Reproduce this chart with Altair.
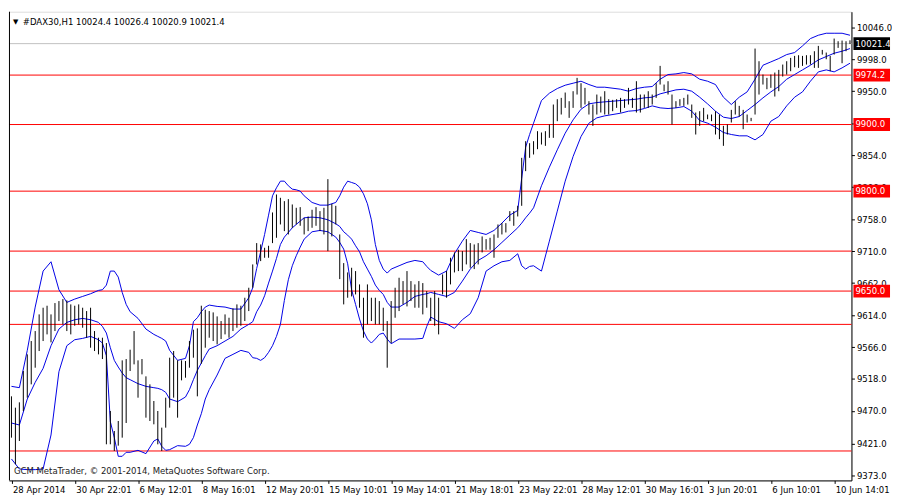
import altair as alt
import pandas as pd

# ---------------- data ----------------
highs = [9492, 9475, 9483, 9530, 9555, 9575, 9590, 9615, 9625, 9628,
         9615, 9632, 9635, 9638, 9636, 9630, 9628, 9630, 9625, 9620,
         9625, 9590, 9580, 9580, 9572, 9470, 9440, 9455, 9546, 9548,
         9562, 9590, 9546, 9548, 9522, 9510, 9485, 9470, 9445, 9490,
         9550, 9560, 9546, 9546, 9545, 9575, 9592, 9594, 9628, 9622,
         9620, 9618, 9612, 9605, 9615, 9610, 9624, 9630, 9628, 9640,
         9655, 9690, 9722, 9720, 9715, 9718, 9768, 9795, 9790, 9785,
         9788, 9780, 9775, 9776, 9760, 9762, 9772, 9776, 9770, 9775,
         9818, 9781, 9778, 9735, 9692, 9678, 9685, 9680, 9660, 9640,
         9660, 9640, 9640, 9635, 9625, 9605, 9635, 9655, 9670, 9665,
         9680, 9665, 9660, 9665, 9662, 9650, 9640, 9650, 9640, 9675,
         9680, 9700, 9708, 9712, 9710, 9728, 9722, 9720, 9722, 9732,
         9728, 9730, 9735, 9750, 9752, 9752, 9770, 9770, 9778, 9850,
         9875, 9872, 9875, 9890, 9888, 9890, 9900, 9930, 9938, 9940,
         9948, 9935, 9950, 9970, 9962, 9955, 9935, 9930, 9945, 9942,
         9950, 9938, 9937, 9938, 9940, 9938, 9955, 9940, 9965, 9945,
         9945, 9950, 9945, 9962, 9988, 9960, 9965, 9945, 9935, 9938,
         9940, 9945, 9930, 9918, 9920, 9925, 9915, 9915, 9920, 9915,
         9898, 9900, 9922, 9935, 9928, 9922, 9915, 9910, 10014, 9995,
         9975, 9970, 9975, 9978, 9982, 9990, 9995, 10000, 10003, 10004,
         10003, 10004, 10004, 10010, 10018, 10012, 10008, 10003, 10029, 10025,
         10026, 10025, 10026.4]

lows = [9430, 9390, 9425, 9470, 9490, 9510, 9535, 9560, 9575, 9585,
        9573, 9590, 9605, 9600, 9590, 9585, 9598, 9600, 9595, 9580,
        9565, 9560, 9555, 9548, 9420, 9420, 9410, 9418, 9430, 9452,
        9530, 9540, 9490, 9525, 9460, 9455, 9450, 9420, 9410, 9445,
        9475, 9490, 9460, 9516, 9520, 9535, 9550, 9492, 9541, 9565,
        9580, 9575, 9570, 9578, 9585, 9580, 9590, 9595, 9598, 9605,
        9620, 9655, 9690, 9695, 9700, 9700, 9722, 9730, 9750, 9740,
        9735, 9745, 9750, 9748, 9735, 9740, 9745, 9748, 9740, 9735,
        9710, 9732, 9750, 9668, 9630, 9640, 9642, 9645, 9625, 9580,
        9600, 9605, 9600, 9600, 9590, 9535, 9572, 9610, 9620, 9630,
        9627, 9635, 9625, 9625, 9615, 9625, 9605, 9598, 9585, 9645,
        9640, 9660, 9678, 9680, 9680, 9690, 9685, 9683, 9690, 9708,
        9712, 9712, 9700, 9730, 9735, 9738, 9755, 9748, 9762, 9778,
        9830, 9850, 9855, 9863, 9870, 9868, 9880, 9880, 9905, 9915,
        9925, 9910, 9925, 9945, 9925, 9930, 9915, 9898, 9915, 9918,
        9915, 9915, 9920, 9925, 9918, 9925, 9930, 9925, 9918, 9918,
        9925, 9925, 9930, 9940, 9960, 9950, 9945, 9900, 9925, 9928,
        9928, 9930, 9910, 9885, 9898, 9905, 9908, 9905, 9885, 9878,
        9868, 9885, 9903, 9915, 9912, 9893, 9903, 9905, 9915, 9945,
        9960, 9953, 9955, 9942, 9950, 9972, 9975, 9980, 9986, 9985,
        9988, 9990, 9990, 9985, 9985, 10005, 9998, 9980, 10005, 10015,
        9992, 10010, 10020.9]

# Bollinger band lines (upper / middle / lower) read at these bar positions
band_idx = [0, 2, 4, 6, 8, 10, 12, 14, 16, 18, 20, 22, 23, 24, 25, 26, 27, 28, 29, 30,
            32, 34, 36, 37, 38, 39, 40, 42, 44, 45, 46, 47, 48, 49, 50, 52, 54, 56,
            58, 60, 61, 62, 63, 64, 65, 66, 67, 68, 69, 70, 71, 72, 73, 74, 76, 78, 80, 82,
            83, 84, 85, 86, 87, 88, 89, 90, 91, 92, 93, 94, 95, 96, 98, 100, 102, 104, 105, 106,
            108, 110, 112, 114, 116, 118, 120, 122, 124, 126, 128, 129, 130, 131, 132, 134, 136, 138,
            140, 142, 144, 146, 148, 150, 154, 156, 158, 160, 162, 164, 166, 168, 170, 172, 174, 176,
            178, 180, 182, 184, 186, 188, 190, 192, 194, 196, 198, 200, 202, 204, 206, 208, 210, 212]

upper = [9507, 9505, 9561, 9626, 9680, 9694, 9652, 9633, 9638, 9642, 9646, 9651, 9652, 9659, 9680, 9680, 9671, 9648, 9630, 9619,
         9609, 9593, 9585, 9582, 9579, 9575, 9561, 9546, 9549, 9568, 9604, 9610, 9619, 9626, 9629, 9627, 9626, 9623,
         9623, 9640, 9655, 9684, 9709, 9735, 9764, 9793, 9805, 9815, 9815, 9808, 9803, 9802, 9800, 9793, 9783, 9779, 9779, 9783,
         9793, 9806, 9815, 9813, 9811, 9806, 9796, 9781, 9757, 9720, 9696, 9683, 9677, 9683, 9688, 9693, 9696, 9694, 9687, 9681,
         9674, 9680, 9706, 9725, 9741, 9738, 9735, 9741, 9752, 9764, 9771, 9819, 9866, 9885, 9902, 9936, 9947, 9954,
         9959, 9962, 9965, 9960, 9956, 9956, 9953, 9950, 9954, 9956, 9957, 9968, 9975, 9976, 9978, 9976, 9968, 9965,
         9960, 9941, 9930, 9941, 9949, 9968, 9989, 9994, 9999, 10005, 10008, 10018, 10029, 10034, 10037, 10037, 10037, 10034]

middle = [9452, 9449, 9488, 9513, 9534, 9568, 9593, 9603, 9607, 9609, 9607, 9603, 9597, 9587, 9565, 9546, 9536, 9527, 9520, 9517,
          9511, 9507, 9505, 9504, 9502, 9498, 9488, 9484, 9491, 9502, 9517, 9531, 9542, 9553, 9563, 9568, 9575, 9582,
          9593, 9600, 9604, 9619, 9629, 9643, 9662, 9680, 9699, 9720, 9731, 9738, 9745, 9750, 9755, 9760, 9761, 9760, 9757, 9751,
          9747, 9739, 9734, 9728, 9718, 9709, 9694, 9683, 9672, 9659, 9651, 9645, 9633, 9626, 9626, 9633, 9642, 9645, 9646, 9648,
          9645, 9642, 9648, 9665, 9683, 9696, 9703, 9712, 9723, 9734, 9745, 9752, 9760, 9767, 9775, 9808, 9836, 9862,
          9887, 9907, 9923, 9931, 9933, 9934, 9936, 9937, 9938, 9940, 9941, 9946, 9949, 9952, 9953, 9950, 9941, 9931,
          9920, 9911, 9909, 9912, 9921, 9930, 9940, 9949, 9957, 9968, 9975, 9982, 9989, 9997, 10002, 10007, 10010, 10014]

lower = [9398, 9383, 9382, 9382, 9383, 9434, 9529, 9568, 9577, 9579, 9582, 9577, 9572, 9553, 9454, 9430, 9402, 9402, 9408, 9408,
         9411, 9406, 9425, 9428, 9417, 9411, 9412, 9418, 9417, 9420, 9430, 9449, 9466, 9488, 9502, 9524, 9549, 9555,
         9561, 9558, 9550, 9549, 9546, 9550, 9558, 9568, 9582, 9600, 9636, 9667, 9688, 9703, 9716, 9728, 9739, 9741, 9739, 9731,
         9723, 9713, 9691, 9652, 9630, 9608, 9590, 9578, 9572, 9578, 9585, 9587, 9578, 9571, 9578, 9578, 9578, 9579, 9597, 9611,
         9604, 9601, 9594, 9607, 9616, 9640, 9680, 9688, 9694, 9696, 9706, 9688, 9683, 9687, 9688, 9680, 9725, 9770,
         9815, 9852, 9882, 9902, 9910, 9913, 9917, 9920, 9921, 9924, 9928, 9925, 9924, 9925, 9927, 9920, 9906, 9902,
         9896, 9888, 9885, 9883, 9883, 9877, 9885, 9905, 9912, 9928, 9941, 9949, 9965, 9979, 9982, 9979, 9985, 9992]

time_ticks = [0, 16, 32, 48, 64, 80, 96, 112, 128, 144, 160, 176, 192, 208]
time_labels = ["28 Apr 2014", "30 Apr 22:01", "6 May 12:01", "8 May 16:01", "12 May 20:01",
               "15 May 10:01", "19 May 14:01", "21 May 18:01", "23 May 22:01", "28 May 12:01",
               "30 May 16:01", "3 Jun 20:01", "6 Jun 10:01", "10 Jun 14:01"]
price_ticks = [10046.0, 9998.0, 9950.0, 9902.0, 9854.0, 9806.0, 9758.0, 9710.0,
               9662.0, 9614.0, 9566.0, 9518.0, 9470.0, 9421.0, 9373.0]
red_levels = [9974.2, 9900.0, 9800.0, 9710.0, 9650.0, 9600.0, 9410.0]
tag_levels = [9974.2, 9900.0, 9800.0, 9650.0, 10021.4]
tag_colors = ["#FF0000", "#FF0000", "#FF0000", "#FF0000", "#000000"]
last_price = 10021.4
title_text = "#DAX30,H1  10024.4 10026.4 10020.9 10021.4"
footer_text = "GCM MetaTrader, \u00a9 2001-2014, MetaQuotes Software Corp."

# ---------------- layout ----------------
W, H = 852, 474
FONT = "DejaVu Sans"
FS = 8.6
xscale = alt.Scale(domain=[-0.625, 212.375], nice=False, zero=False)
yscale = alt.Scale(domain=[9365.8, 10069.3], nice=False, zero=False)

lab_arr = "[" + ",".join(f"'{s}'" for s in time_labels) + "]"
tick_arr = "[" + ",".join(str(t) for t in time_ticks) + "]"
label_expr = f"{lab_arr}[indexof({tick_arr}, datum.value)]"

x_axis = alt.Axis(values=time_ticks, labelExpr=label_expr, title=None,
                  labelAlign="left", labelBaseline="top", labelPadding=2,
                  labelOffset=1, tickSize=3, grid=False, labelFlush=False,
                  labelOverlap=False, domainColor="#000000", tickColor="#000000",
                  labelColor="#000000", labelFont=FONT, labelFontSize=FS, zindex=0)
y_axis = alt.Axis(orient="right", values=price_ticks, format=".1f", title=None,
                  tickSize=3, labelPadding=2, grid=False, labelOverlap=False,
                  labelFlush=False, domainColor="#000000", tickColor="#000000",
                  labelColor="#000000", labelFont=FONT, labelFontSize=FS,
                  labelBaseline="middle", zindex=0)

bars = pd.DataFrame({"i": list(range(len(highs))), "high": highs, "low": lows})
bands = pd.concat([
    pd.DataFrame({"i": band_idx, "v": upper, "band": "upper"}),
    pd.DataFrame({"i": band_idx, "v": middle, "band": "middle"}),
    pd.DataFrame({"i": band_idx, "v": lower, "band": "lower"}),
])
levels = pd.DataFrame({"level": red_levels})
tags = pd.DataFrame({"level": tag_levels, "col": tag_colors,
                     "txt": [f"{v:.1f}" for v in tag_levels]})

bar_layer = alt.Chart(bars).mark_rule(color="#000000", strokeWidth=1).encode(
    x=alt.X("i:Q", scale=xscale, axis=x_axis),
    y=alt.Y("low:Q", scale=yscale, axis=y_axis),
    y2="high:Q",
)

band_layer = alt.Chart(bands).mark_line(color="#0000E6", strokeWidth=1).encode(
    x=alt.X("i:Q", scale=xscale, axis=x_axis),
    y=alt.Y("v:Q", scale=yscale, axis=y_axis),
    detail="band:N",
)

level_layer = alt.Chart(levels).mark_rule(color="#FF0000", strokeWidth=1).encode(
    y=alt.Y("level:Q", scale=yscale, axis=y_axis)
)

last_layer = alt.Chart(pd.DataFrame({"p": [last_price]})).mark_rule(
    color="#C0C0C0", strokeWidth=1).encode(y=alt.Y("p:Q", scale=yscale, axis=y_axis))

left_border = alt.Chart(pd.DataFrame({"p": [0]})).mark_rule(color="#000000", strokeWidth=1).encode(
    x=alt.value(0.5), y=alt.value(0), y2=alt.value(H))

tag_box = alt.Chart(tags).transform_calculate(
    top="datum.level + 9.6", bot="datum.level - 9.6"
).mark_rect().encode(
    x=alt.value(W + 2), x2=alt.value(W + 39),
    y=alt.Y("top:Q", scale=yscale, axis=y_axis), y2="bot:Q",
    color=alt.Color("col:N", scale=None, legend=None),
)

tag_text = alt.Chart(tags).mark_text(align="left", baseline="middle", color="#FFFFFF",
                                     font=FONT, fontSize=FS).encode(
    x=alt.value(W + 4), y=alt.Y("level:Q", scale=yscale, axis=y_axis), text="txt:N")

title_layer = alt.Chart(pd.DataFrame({"t": [title_text]})).mark_text(
    align="left", baseline="middle", font=FONT, fontSize=FS, color="#000000").encode(
    x=alt.value(14), y=alt.value(10), text="t:N")

tri_layer = alt.Chart(pd.DataFrame({"t": ["\u25bc"]})).mark_text(
    align="left", baseline="middle", font=FONT, fontSize=7, color="#000000").encode(
    x=alt.value(4), y=alt.value(10), text="t:N")

footer_layer = alt.Chart(pd.DataFrame({"t": [footer_text]})).mark_text(
    align="left", baseline="middle", font=FONT, fontSize=FS, color="#222222").encode(
    x=alt.value(5), y=alt.value(H - 9), text="t:N")

chart = alt.layer(
    level_layer, last_layer, band_layer, bar_layer, left_border,
    tag_box, tag_text, title_layer, tri_layer, footer_layer
).properties(
    width=W, height=H, padding={"left": 0, "top": 0, "right": 0, "bottom": 0}
).configure_view(stroke=None).configure(background="#FFFFFF")

chart.save("out.html", embed_options={"renderer": "svg", "actions": False})
